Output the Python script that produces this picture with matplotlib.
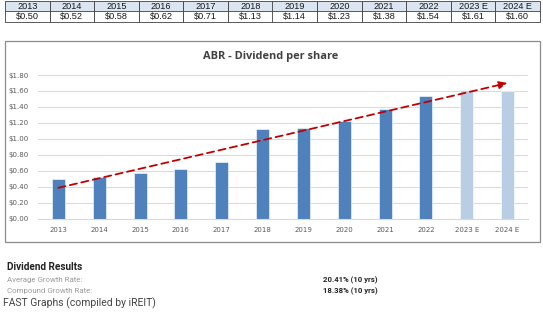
import matplotlib
matplotlib.use("Agg")
import matplotlib.pyplot as plt
from matplotlib.patches import Rectangle

years = ["2013", "2014", "2015", "2016", "2017", "2018", "2019", "2020",
         "2021", "2022", "2023 E", "2024 E"]
dividends = [0.50, 0.52, 0.58, 0.62, 0.71, 1.13, 1.14, 1.23, 1.38, 1.54, 1.61, 1.60]
is_estimate = [False] * 10 + [True, True]
trend_start = 0.39
trend_end = 1.70
avg_growth = "20.41% (10 yrs)"
cagr = "18.38% (10 yrs)"

W, H = 543, 329
fig = plt.figure(figsize=(W / 100, H / 100), dpi=100)
fig.patch.set_facecolor("white")


def fx(px):
    return px / W


def fy(py):
    return 1 - py / H


# table of values on top
tab_ax = fig.add_axes([fx(5), fy(22), fx(535), (22 - 1) / H])
tab_ax.axis("off")
cells = [["$%.2f" % v for v in dividends]]
tbl = tab_ax.table(cellText=cells, colLabels=years, loc="center",
                   cellLoc="center", bbox=[0, 0, 1, 1])
tbl.auto_set_font_size(False)
for (r, c), cell in tbl.get_celld().items():
    cell.set_linewidth(0.6)
    cell.set_edgecolor("#404040")
    cell.get_text().set_fontsize(6.6)
    cell.get_text().set_fontfamily("Liberation Sans")
    cell.get_text().set_color("#1a1a1a")
    if r == 0:
        cell.set_facecolor("#dbe5f1")
    else:
        cell.set_facecolor("white")

# chart frame
fig.patches.append(Rectangle((fx(5), fy(242)), fx(535), (242 - 41) / H,
                             transform=fig.transFigure, fill=False,
                             edgecolor="#8c8c8c", linewidth=0.9))

fig.text(fx(271), fy(57), "ABR - Dividend per share", ha="center", va="center",
         fontsize=7.9, fontweight="bold", color="#404040", family="Open Sans")

ax = fig.add_axes([fx(38), fy(219), fx(528 - 38), (219 - 75) / H])
x = list(range(len(years)))
colors = ["#b9cde5" if e else "#4f81bd" for e in is_estimate]
ax.bar(x, dividends, width=0.32, color=colors, edgecolor="white", linewidth=0.4, zorder=2)
ax.set_xlim(-0.5, len(years) - 0.5)
ax.set_ylim(0, 1.8)
ax.set_yticks([i * 0.2 for i in range(10)])
ax.set_yticklabels(["$%.2f" % (i * 0.2) for i in range(10)])
ax.set_xticks(x)
ax.set_xticklabels(years)
ax.grid(axis="y", color="#d9d9d9", linewidth=0.7, zorder=0)
for s in ax.spines.values():
    s.set_visible(False)
ax.spines["bottom"].set_visible(True)
ax.spines["bottom"].set_color("#d9d9d9")
ax.tick_params(length=0, labelsize=5, labelcolor="#595959")
ax.tick_params(axis="y", pad=7)
ax.tick_params(axis="x", pad=6)
ax.annotate("", xy=(len(years) - 1, trend_end), xytext=(0, trend_start),
            arrowprops=dict(arrowstyle="-|>,head_length=0.5,head_width=0.22",
                            color="#c00000", linestyle=(0, (4, 2.5)),
                            linewidth=1.3, shrinkA=0, shrinkB=0),
            annotation_clip=False, zorder=3)

# results block below
fig.text(fx(7), fy(267), "Dividend Results", fontsize=7.2, fontweight="bold",
         color="#222222", family="Roboto", va="center")
fig.text(fx(7), fy(280), "Average Growth Rate:", fontsize=5.7, color="#9a9a9a",
         family="Roboto", va="center")
fig.text(fx(7), fy(291), "Compound Growth Rate:", fontsize=5.7, color="#9a9a9a",
         family="Roboto", va="center")
fig.text(fx(323), fy(280), avg_growth, fontsize=5.6, fontweight="bold",
         color="#222222", family="Roboto", va="center")
fig.text(fx(323), fy(291), cagr, fontsize=5.6, fontweight="bold",
         color="#222222", family="Roboto", va="center")
fig.text(fx(3), fy(303), "FAST Graphs (compiled by iREIT)", fontsize=7.5,
         color="#444444", family="Roboto", va="center")

fig.savefig("out.png", dpi=100)
